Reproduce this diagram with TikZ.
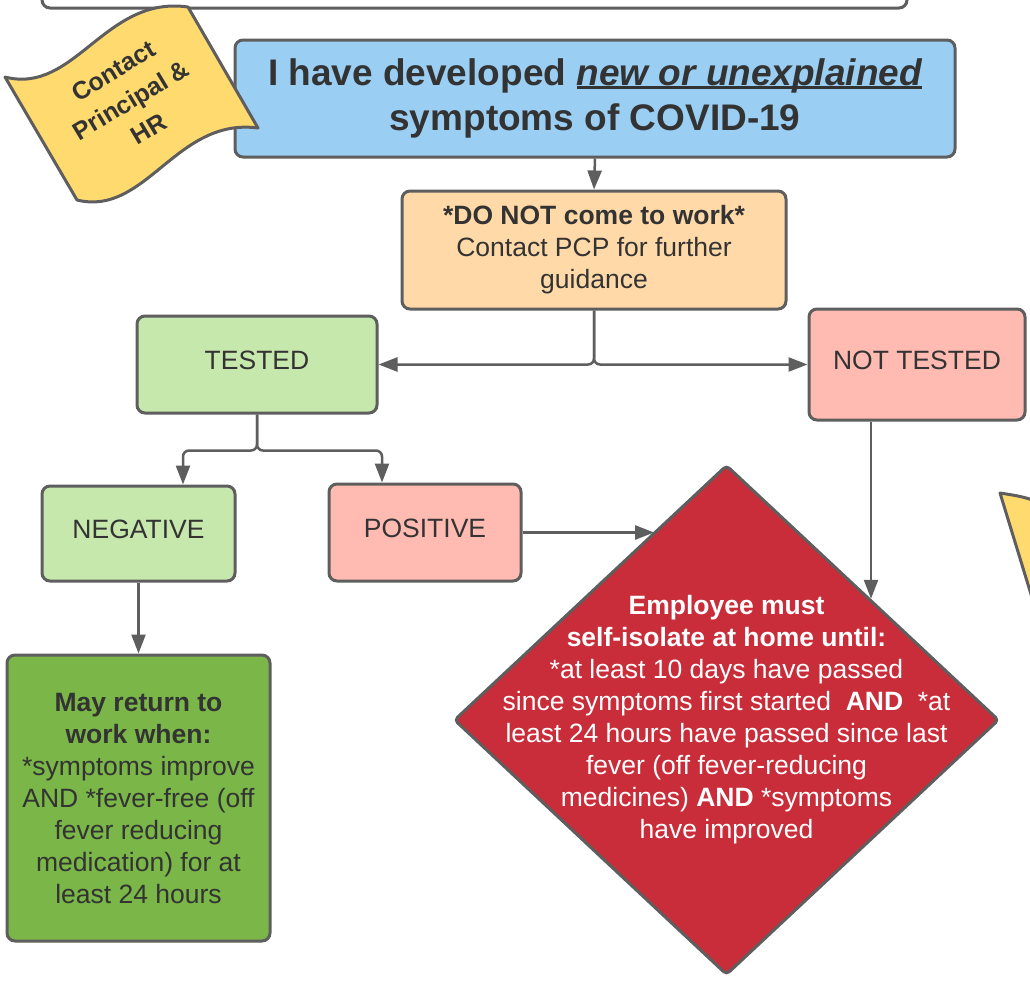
\documentclass[tikz,border=0pt]{standalone}
\usepackage{fontspec}
\setmainfont{Liberation Sans}
\usetikzlibrary{shapes.geometric, arrows.meta, positioning}

\definecolor{linegray}{HTML}{5E5E5E}
\definecolor{textgray}{HTML}{333333}
\definecolor{bluefill}{HTML}{9ACEF2}
\definecolor{orangefill}{HTML}{FFD9A8}
\definecolor{lightgreen}{HTML}{C7E8AC}
\definecolor{salmon}{HTML}{FFBBB1}
\definecolor{darkgreen}{HTML}{7AB648}
\definecolor{redfill}{HTML}{C92D39}
\definecolor{flagyellow}{HTML}{FFDA6E}

\newcommand{\bodyfont}{\fontsize{26.5}{32}\selectfont}
\newcommand{\titlefont}{\fontsize{37}{45}\selectfont\bfseries}
\newcommand{\baseul}[1]{\setbox0\hbox{#1}\rlap{\rule[-3pt]{\wd0}{2.5pt}}\box0}

\tikzset{
    box/.style={draw=linegray, line width=3pt, rounded corners=8pt, text=textgray,
        font=\bodyfont, align=center, inner sep=0pt},
    oneline/.style={text depth=8pt},
    arr/.style={draw=linegray, line width=2.5pt, rounded corners=6pt,
        -{Triangle[length=19pt, width=14pt]}},
    flag/.style={draw=linegray, line width=3pt, fill=flagyellow, line join=round},
}

\begin{document}
\begin{tikzpicture}[x=1pt, y=-1pt]
        \useasboundingbox (0,0) rectangle (1030,980);
        \clip (0,0) rectangle (1030,980);

        % Cut-off shapes at the edges
        \draw[box, fill=white] (42,-40) rectangle (907,8);
        \draw[flag] (1000,493) -- (1045,640) -- (1045,505) .. controls (1025,497) .. cycle;

        % Boxes
        \node[box, fill=bluefill, minimum width=720pt, minimum height=117pt, font=\titlefont] (title) at (595,98.5)
            {I have developed \baseul{\itshape new or unexplained}\\symptoms of COVID-19};
        \node[box, fill=orangefill, minimum width=384pt, minimum height=118pt] (stay) at (594,250)
            {\textbf{*DO NOT come to work*}\\Contact PCP for further\\guidance};
        \node[box, oneline, fill=lightgreen, minimum width=240pt, minimum height=97pt] (tested) at (257,364.5) {TESTED};
        \node[box, oneline, fill=salmon, minimum width=216pt, minimum height=111pt] (nottested) at (917,364.5) {NOT TESTED};
        \node[box, oneline, fill=lightgreen, minimum width=193pt, minimum height=95pt] (negative) at (138.5,533.5) {NEGATIVE};
        \node[box, oneline, fill=salmon, minimum width=192pt, minimum height=97pt] (positive) at (425,532.5) {POSITIVE};
        \node[box, fill=darkgreen, minimum width=263pt, minimum height=286pt] (mayreturn) at (138.5,798)
            {\textbf{May return to}\\\textbf{work when:}\\*symptoms improve\\AND *fever-free (off\\fever reducing\\medication) for at\\least 24 hours};
        \node[diamond, draw=linegray, line width=3pt, fill=redfill, rounded corners=4pt, inner sep=0pt,
            minimum width=545pt, minimum height=510pt] (isolate) at (726.5,720) {};
        \node[font=\bodyfont, text=white, align=center] (isolatetext) at (isolate.center)
            {\textbf{Employee must}\\\textbf{self-isolate at home until:}\\*at least 10 days have passed\\
             since symptoms first started~ \textbf{AND} ~*at\\least 24 hours have passed since last\\
             fever (off fever-reducing\\medicines) \textbf{AND} *symptoms\\have improved};

        % Contact flag
        \draw[flag] (5,77) .. controls (75,95) and (105,-5) .. (188,7) -- (258,128)
            .. controls (176,117) and (146,217) .. (77,200) -- cycle;
        \node[rotate=31, text=textgray, align=center, font=\fontsize{25}{34}\selectfont\bfseries] (contact) at (131,100)
            {Contact\\Principal \&\\HR};

        % Arrows
        \draw[arr] (title.south) -- (stay.north);
        \draw[arr] (stay.south) |- (tested.east);
        \draw[arr] (stay.south) |- (nottested.west);
        \draw[arr] (tested.south) -- ++(0,36) -| ([xshift=44.5pt]negative.north);
        \draw[arr] (tested.south) -- ++(0,36) -| ([xshift=-43pt]positive.north);
        \draw[arr] (negative.south) -- (mayreturn.north);
        \draw[arr] (positive.east) -- (positive.east -| isolate.111);
        \draw[arr] (nottested.south -| isolate.40) -- (isolate.40);

    \end{tikzpicture}
\end{document}
